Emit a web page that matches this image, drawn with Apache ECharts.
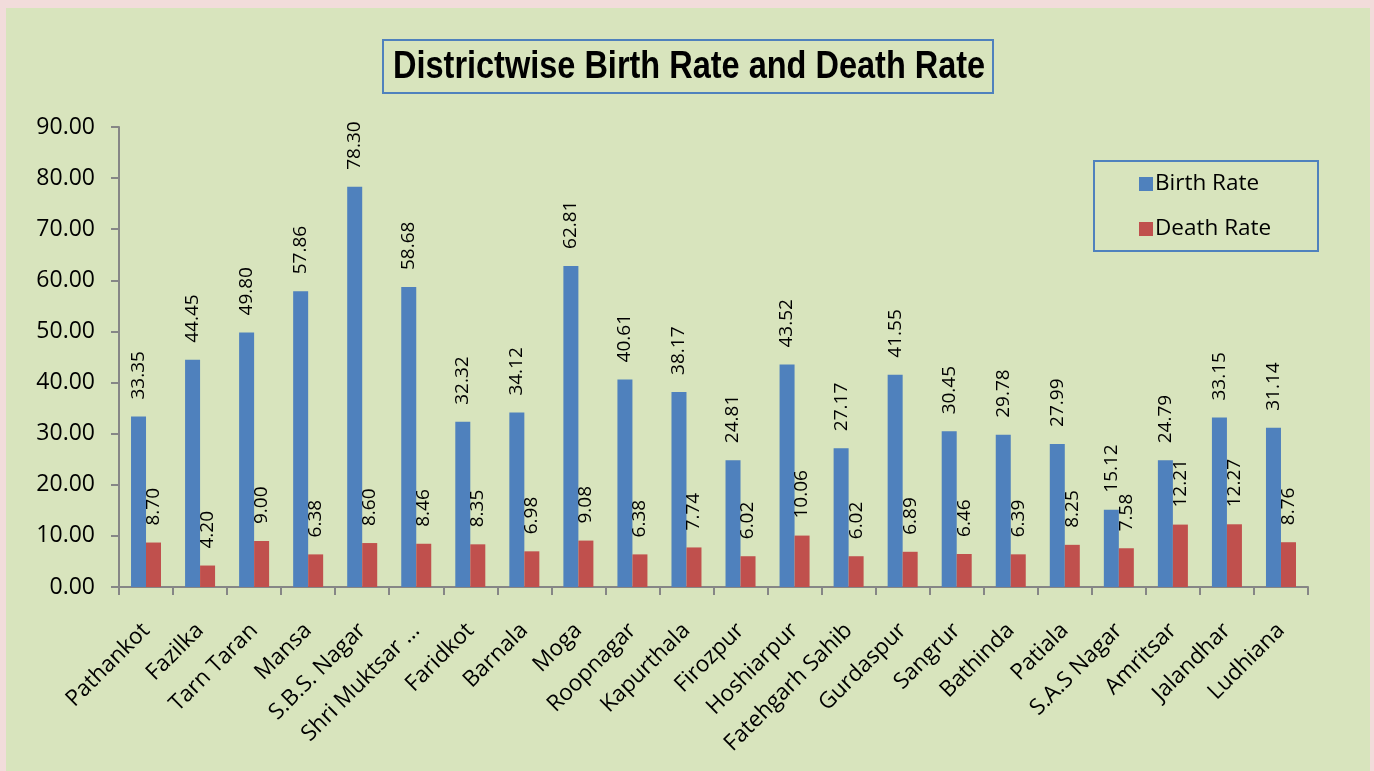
<!DOCTYPE html>
<html>
<head>
<meta charset="utf-8">
<script src="https://cdn.jsdelivr.net/npm/echarts@6/dist/echarts.min.js"></script>
<style>
  html, body { margin: 0; padding: 0; background: #f2dcdb; }
  #chart { width: 1374px; height: 771px; }
</style>
</head>
<body>
<div id="chart"></div>
<script>
var districts = [
  "Pathankot", "Fazilka", "Tarn Taran", "Mansa", "S.B.S. Nagar", "Shri Muktsar ...",
  "Faridkot", "Barnala", "Moga", "Roopnagar", "Kapurthala", "Firozpur",
  "Hoshiarpur", "Fatehgarh Sahib", "Gurdaspur", "Sangrur", "Bathinda", "Patiala",
  "S.A.S Nagar", "Amritsar", "Jalandhar", "Ludhiana"
];
var birthRate = [
  33.35, 44.45, 49.80, 57.86, 78.30, 58.68, 32.32, 34.12, 62.81, 40.61, 38.17,
  24.81, 43.52, 27.17, 41.55, 30.45, 29.78, 27.99, 15.12, 24.79, 33.15, 31.14
];
var deathRate = [
  8.70, 4.20, 9.00, 6.38, 8.60, 8.46, 8.35, 6.98, 9.08, 6.38, 7.74,
  6.02, 10.06, 6.02, 6.89, 6.46, 6.39, 8.25, 7.58, 12.21, 12.27, 8.76
];

var chart = echarts.init(document.getElementById("chart"));
var font = "'Open Sans', 'Noto Sans', sans-serif";
var axisGrey = "#868686";

// data label shared by both series
var valueLabel = {
  show: true,
  position: "top",
  rotate: 90,
  align: "left",
  verticalAlign: "middle",
  distance: 17,
  color: "#000",
  fontFamily: font,
  fontSize: 19,
  formatter: function (p) {
    return p.value.toFixed(2);
  }
};

var option = {
  backgroundColor: "#f2dcdb",
  animation: false,
  graphic: [
    {
      type: "rect",
      shape: { x: 6, y: 8, width: 1364, height: 763 },
      style: { fill: "#d8e4bd" },
      z: -10
    },
    {
      type: "rect",
      shape: { x: 383, y: 40, width: 610, height: 53 },
      style: { fill: "none", stroke: "#4f81bd", lineWidth: 2 }
    },
    {
      // condensed bold title: squeeze a regular bold face horizontally
      type: "text",
      x: 393,
      y: 68,
      scaleX: 0.855,
      style: {
        text: "Districtwise Birth Rate and Death Rate",
        fontFamily: "'Liberation Sans', Arial, sans-serif",
        fontWeight: "bold",
        fontSize: 38,
        verticalAlign: "middle",
        fill: "#000"
      }
    },
    {
      type: "rect",
      shape: { x: 1094, y: 161, width: 224, height: 90 },
      style: { fill: "none", stroke: "#4f81bd", lineWidth: 2 }
    }
  ],
  legend: {
    orient: "vertical",
    left: 1134,
    top: 167,
    itemWidth: 14,
    itemHeight: 14,
    itemGap: 21,
    icon: "rect",
    textStyle: {
      fontFamily: font,
      fontSize: 22.5,
      lineHeight: 24,
      color: "#000",
      padding: [0, 0, 0, -3]
    },
    data: ["Birth Rate", "Death Rate"]
  },
  grid: {
    left: 119,
    right: 66,
    top: 127,
    bottom: 184,
    containLabel: false
  },
  xAxis: {
    type: "category",
    data: districts,
    axisLine: { lineStyle: { color: axisGrey, width: 2 } },
    axisTick: { show: true, length: 8, lineStyle: { color: axisGrey, width: 2 } },
    axisLabel: {
      interval: 0,
      rotate: 45,
      align: "right",
      verticalAlign: "middle",
      margin: 40,
      color: "#000",
      fontFamily: font,
      fontSize: 22.5
    }
  },
  yAxis: {
    type: "value",
    min: 0,
    max: 90,
    interval: 10,
    axisLine: { show: true, lineStyle: { color: axisGrey, width: 2 } },
    axisTick: { show: true, length: 8, lineStyle: { color: axisGrey, width: 2 } },
    splitLine: { show: false },
    axisLabel: {
      margin: 24,
      color: "#000",
      fontFamily: font,
      fontSize: 23,
      formatter: function (v) {
        return v.toFixed(2);
      }
    }
  },
  series: [
    {
      name: "Birth Rate",
      type: "bar",
      data: birthRate,
      barWidth: 15,
      barGap: "0%",
      itemStyle: { color: "#4f81bd" },
      label: valueLabel
    },
    {
      name: "Death Rate",
      type: "bar",
      data: deathRate,
      barWidth: 15,
      barGap: "0%",
      itemStyle: { color: "#c0504d" },
      label: valueLabel
    }
  ]
};

chart.setOption(option);
</script>
</body>
</html>
